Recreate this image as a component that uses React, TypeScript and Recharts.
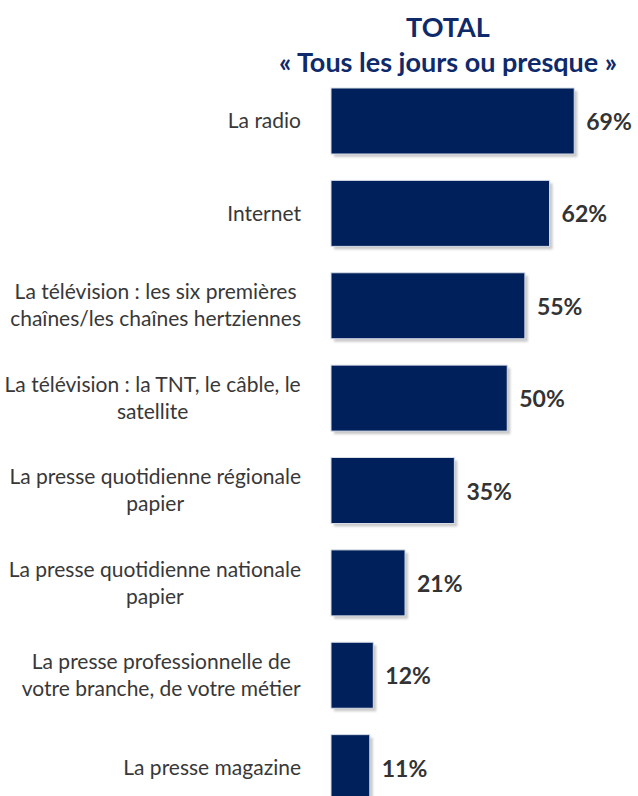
import React from 'react'
import { BarChart, Bar, XAxis, YAxis, LabelList } from 'recharts'

const categories = [
  'La radio',
  'Internet',
  'La télévision : les six premières\nchaînes/les chaînes hertziennes',
  'La télévision : la TNT, le câble, le\nsatellite',
  'La presse quotidienne régionale\npapier',
  'La presse quotidienne nationale\npapier',
  'La presse professionnelle de\nvotre branche, de votre métier',
  'La presse magazine',
]
const values = [69, 62, 55, 50, 35, 21, 12, 11]
const titleLines = ['TOTAL', '« Tous les jours ou presque »']

const data = categories.map((name, i) => ({ name, value: values[i] }))

const NAVY = '#00205B'
const LABEL_FONT = '21px Lato'

let ctx: CanvasRenderingContext2D | null = null
function measure(text: string) {
  if (!ctx) ctx = document.createElement('canvas').getContext('2d')
  if (!ctx) return text.length * 9.5
  ctx.font = LABEL_FONT
  return ctx.measureText(text).width
}

// lines centred inside a block whose right edge sits near the bars
function CategoryTick(props: any) {
  const { y, payload } = props
  const lines: string[] = String(payload.value).split('\n')
  const maxW = Math.max(...lines.map(measure))
  const cx = 301 - maxW / 2
  const lh = 27
  const startY = y - 1.5 - ((lines.length - 1) * lh) / 2
  return (
    <text
      x={cx}
      y={startY}
      textAnchor="middle"
      fill="#383838"
      style={{ fontFamily: 'Lato', fontSize: 21 }}
    >
      {lines.map((l, i) => (
        <tspan key={i} x={cx} y={startY + i * lh} dominantBaseline="central">
          {l}
        </tspan>
      ))}
    </text>
  )
}

function ShadowBar(props: any) {
  const { x, y, width, height } = props
  return (
    <g>
      <rect x={x + 3} y={y + 3} width={width} height={height} fill="#c9c9c9" filter="url(#soft)" />
      <rect x={x} y={y} width={width} height={height} fill={NAVY} stroke="#d8dde8" strokeWidth={1} />
    </g>
  )
}

function ValueLabel(props: any) {
  const { x, y, width, height, value } = props
  return (
    <text
      x={x + width + 12}
      y={y + height / 2}
      dominantBaseline="central"
      fill="#333"
      style={{ fontFamily: 'Lato', fontSize: 23, fontWeight: 700 }}
    >
      {value}%
    </text>
  )
}

export default function App() {
  return (
    <div style={{ position: 'absolute', left: 0, top: 0, width: 638, height: 796, overflow: 'hidden', background: '#fff' }}>
      <div
        style={{
          position: 'absolute',
          left: 248,
          top: 9,
          width: 400,
          textAlign: 'center',
          fontFamily: 'Lato',
          fontWeight: 700,
          fontSize: 27,
          lineHeight: '35px',
          color: '#0E2A6B',
        }}
      >
        {titleLines.map((t, i) => (
          <div key={i}>{t}</div>
        ))}
      </div>
      <BarChart
        width={638}
        height={814}
        data={data}
        layout="vertical"
        margin={{ top: 75, right: 25, left: 0, bottom: 0 }}
      >
        <defs>
          <filter id="soft" x="-10%" y="-10%" width="130%" height="130%">
            <feGaussianBlur stdDeviation="1" />
          </filter>
        </defs>
        <XAxis type="number" domain={[0, 80]} hide />
        <YAxis
          type="category"
          dataKey="name"
          width={331}
          axisLine={false}
          tickLine={false}
          interval={0}
          tick={<CategoryTick />}
        />
        <Bar dataKey="value" barSize={66} shape={<ShadowBar />} isAnimationActive={false}>
          <LabelList dataKey="value" content={<ValueLabel />} />
        </Bar>
      </BarChart>
    </div>
  )
}
